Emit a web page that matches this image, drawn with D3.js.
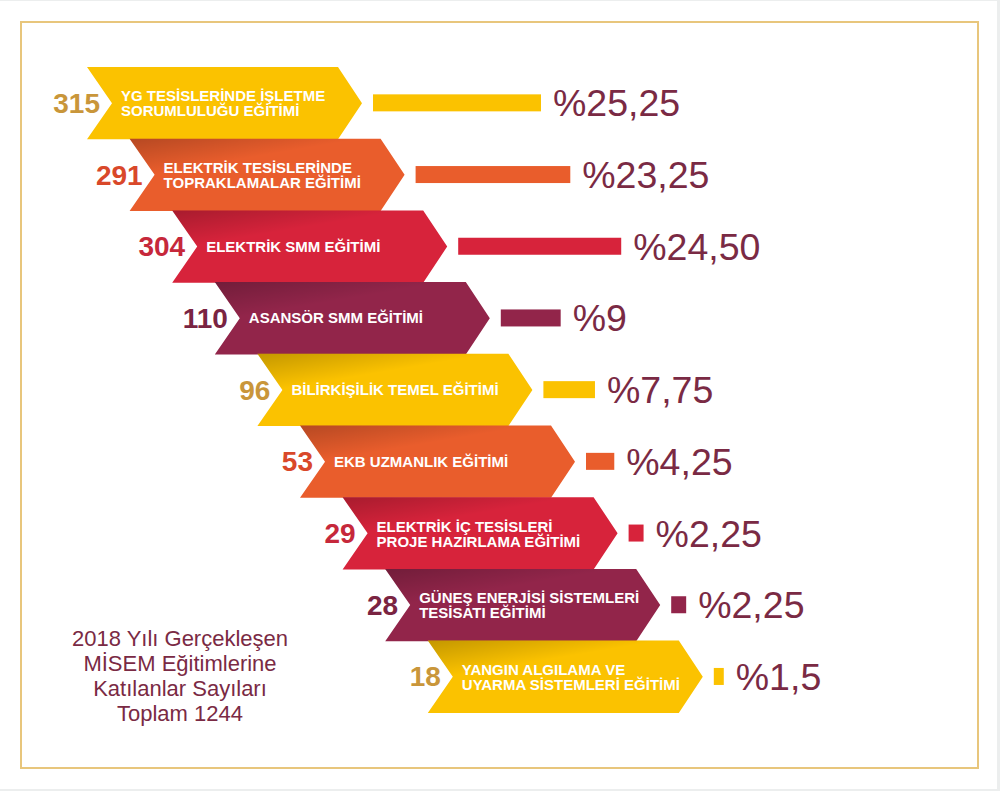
<!DOCTYPE html>
<html><head><meta charset="utf-8">
<script src="https://cdn.jsdelivr.net/npm/d3@7/dist/d3.min.js"></script>
<style>
html,body{margin:0;padding:0;background:#eceeee;}
svg{display:block;}
text{font-family:"Liberation Sans",Arial,Helvetica,sans-serif;}
</style></head>
<body>
<svg id="chart" width="1000" height="791"></svg>
<script>
// ---- data ----
const categories = [
  ["YG TESİSLERİNDE İŞLETME", "SORUMLULUĞU EĞİTİMİ"],
  ["ELEKTRİK TESİSLERİNDE", "TOPRAKLAMALAR EĞİTİMİ"],
  ["ELEKTRİK SMM EĞİTİMİ"],
  ["ASANSÖR SMM EĞİTİMİ"],
  ["BİLİRKİŞİLİK TEMEL EĞİTİMİ"],
  ["EKB UZMANLIK EĞİTİMİ"],
  ["ELEKTRİK İÇ TESİSLERİ", "PROJE HAZIRLAMA EĞİTİMİ"],
  ["GÜNEŞ ENERJİSİ SİSTEMLERİ", "TESİSATI EĞİTİMİ"],
  ["YANGIN ALGILAMA VE", "UYARMA SİSTEMLERİ EĞİTİMİ"]
];
const counts = [315, 291, 304, 110, 96, 53, 29, 28, 18];
const percents = [25.25, 23.25, 24.50, 9, 7.75, 4.25, 2.25, 2.25, 1.5];
const percentLabels = ["%25,25", "%23,25", "%24,50", "%9", "%7,75", "%4,25", "%2,25", "%2,25", "%1,5"];
const colorGroups = ["yellow", "orange", "red", "maroon", "yellow", "orange", "red", "maroon", "yellow"];
const titleLines = ["2018 Yılı Gerçekleşen", "MİSEM Eğitimlerine", "Katılanlar Sayıları", "Toplam 1244"];

// ---- styles ----
const arrowFill = {yellow:"#fbc200", orange:"#e95d2c", red:"#d7233b", maroon:"#92254a"};
const countFill = {yellow:"#c9963a", orange:"#d9482a", red:"#c6283b", maroon:"#7a2442"};
const textDark = "#7a2a44";

const svg = d3.select("#chart");
const W = 1000, H = 791;

svg.append("rect").attr("x",0).attr("y",0).attr("width",W).attr("height",H).attr("fill","#eceeee");
svg.append("rect").attr("x",0).attr("y",1).attr("width",997).attr("height",788).attr("fill","#ffffff");
svg.append("rect").attr("x",21).attr("y",22).attr("width",957).attr("height",746)
  .attr("fill","none").attr("stroke","#e8c67c").attr("stroke-width",2);

const defs = svg.append("defs");
const shade = defs.append("linearGradient").attr("id","shade")
  .attr("x1","0").attr("y1","0").attr("x2","0.45").attr("y2","0.7");
shade.append("stop").attr("offset","0").attr("stop-color","#000").attr("stop-opacity",0.22);
shade.append("stop").attr("offset","0.55").attr("stop-color","#000").attr("stop-opacity",0.0);
shade.append("stop").attr("offset","1").attr("stop-color","#000").attr("stop-opacity",0.0);

// ---- scales ----
const idx = d3.range(categories.length);
const y = d3.scaleBand().domain(idx).range([67, 67 + 71.7 * categories.length]).paddingInner(0).paddingOuter(0);
const xLeft = d3.scaleLinear().domain([0, categories.length - 1]).range([87, 87 + 42.6 * (categories.length - 1)]);
const barLen = d3.scaleLinear().domain([0, d3.max(percents)]).range([0, 168]);

const bodyW = 251, tipW = 275, notch = 25;

const rows = svg.append("g").selectAll("g.row").data(idx).join("g").attr("class","row");

rows.each(function(i){
  const g = d3.select(this);
  const L = xLeft(i), T = y(i), h = y.bandwidth() + 0.6, c = y(i) + y.bandwidth()/2;
  const pts = [[L,T],[L+bodyW,T],[L+tipW,T+h/2],[L+bodyW,T+h],[L,T+h],[L+notch,T+h/2]];
  const path = "M" + pts.map(p => p.join(",")).join("L") + "Z";
  g.append("path").attr("d", path).attr("fill", arrowFill[colorGroups[i]]);
  if (i > 0) g.append("path").attr("d", path).attr("fill", "url(#shade)");

  // count label
  g.append("text").attr("x", L + notch - 12).attr("y", c + 10)
    .attr("text-anchor","end").attr("font-weight","bold").attr("font-size",28)
    .attr("fill", countFill[colorGroups[i]]).text(counts[i]);

  // category text
  const lines = categories[i];
  const tx = L + notch + 9;
  const t = g.append("text").attr("font-weight","bold").attr("font-size",15).attr("fill","#fff");
  if (lines.length === 1) {
    t.append("tspan").attr("x", tx).attr("y", c + 5.5).text(lines[0]);
  } else {
    t.append("tspan").attr("x", tx).attr("y", c - 1.5).text(lines[0]);
    t.append("tspan").attr("x", tx).attr("y", c + 13.5).text(lines[1]);
  }

  // bar
  const bx = L + tipW + 11;
  const bw = barLen(percents[i]);
  g.append("rect").attr("x", bx).attr("y", c - 8.5).attr("width", bw).attr("height", 17)
    .attr("fill", arrowFill[colorGroups[i]]);

  // percent label
  g.append("text").attr("x", bx + bw + 12).attr("y", c + 13.5)
    .attr("font-size", 37.5).attr("fill", textDark).text(percentLabels[i]);
});

// ---- title block ----
svg.append("text").attr("text-anchor","middle").attr("font-size",22).attr("fill",textDark)
  .selectAll("tspan").data(titleLines).join("tspan")
  .attr("x",180).attr("y",(d,k) => 646 + k*25).text(d => d);
</script>
</body></html>
